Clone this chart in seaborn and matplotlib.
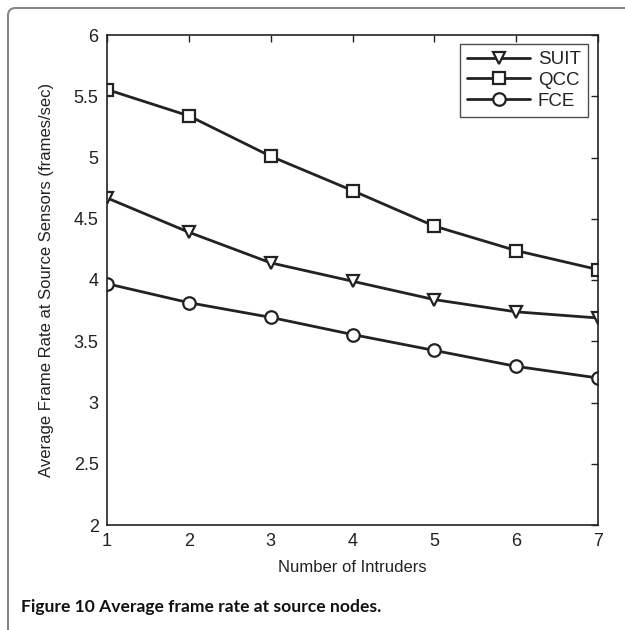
import matplotlib
matplotlib.use("Agg")
import matplotlib.pyplot as plt
import seaborn as sns
import pandas as pd
from matplotlib.patches import FancyBboxPatch

intruders = [1, 2, 3, 4, 5, 6, 7]
suit = [4.67, 4.39, 4.14, 3.99, 3.84, 3.74, 3.69]
qcc = [5.555, 5.34, 5.01, 4.73, 4.44, 4.24, 4.085]
fce = [3.97, 3.815, 3.695, 3.555, 3.425, 3.295, 3.20]
series_names = ["SUIT", "QCC", "FCE"]
series_markers = ["v", "s", "o"]
y_ticks = [2, 2.5, 3, 3.5, 4, 4.5, 5, 5.5, 6]
y_tick_labels = ["2", "2.5", "3", "3.5", "4", "4.5", "5", "5.5", "6"]
x_label = "Number of Intruders"
y_label = "Average Frame Rate at Source Sensors (frames/sec)"
caption = "Figure 10 Average frame rate at source nodes."

sns.set_style("white")
plt.rcParams["font.family"] = ["Liberation Sans", "DejaVu Sans"]

fig = plt.figure(figsize=(6.25, 6.30), dpi=100)
ax = fig.add_axes([107 / 625, 1 - 525 / 630, (598 - 107) / 625, (525 - 35) / 630])

dark = "#222222"
for name, vals, mk in zip(series_names, [suit, qcc, fce], series_markers):
    df = pd.DataFrame({"x": intruders, "y": vals})
    sns.lineplot(data=df, x="x", y="y", ax=ax, color=dark, linewidth=2.0,
                 marker=mk, markersize=9 if mk != "s" else 8,
                 markerfacecolor="white", markeredgecolor=dark,
                 markeredgewidth=1.6, label=name)

ax.set_xlim(1, 7)
ax.set_ylim(2, 6)
ax.set_xticks(intruders)
ax.set_xticklabels([str(v) for v in intruders])
ax.set_yticks(y_ticks)
ax.set_yticklabels(y_tick_labels)
ax.tick_params(direction="in", length=5, width=1, top=True, right=True,
               labelsize=13, colors=dark, pad=6)
for sp in ax.spines.values():
    sp.set_color(dark)
    sp.set_linewidth(1.2)
    sp.set_visible(True)
ax.set_xlabel(x_label, fontsize=12, color=dark, labelpad=7)
ax.set_ylabel(y_label, fontsize=12, color=dark, labelpad=14)

leg = ax.legend(loc="upper right", bbox_to_anchor=(0.9796, 0.982), frameon=True,
                fancybox=False, edgecolor=dark, fontsize=13.5, handlelength=3.4,
                handletextpad=0.4, borderpad=0.38, labelspacing=0.2,
                borderaxespad=0)
leg.get_frame().set_linewidth(1.0)
for t in leg.get_texts():
    t.set_color(dark)

fig.text(21 / 625, 1 - 607 / 630, caption, fontsize=12.6, fontweight="bold",
         family=["Lato", "DejaVu Sans"], va="center", ha="left", color="#111111")

border = FancyBboxPatch((8 / 625, -0.2), 1.3, 1.2 - 8 / 630 + 0.0,
                        boxstyle="round,pad=0,rounding_size=0.012",
                        transform=fig.transFigure, fill=False,
                        edgecolor="#888888", linewidth=1.5)
fig.patches.append(border)

fig.savefig("out.png", dpi=100)
